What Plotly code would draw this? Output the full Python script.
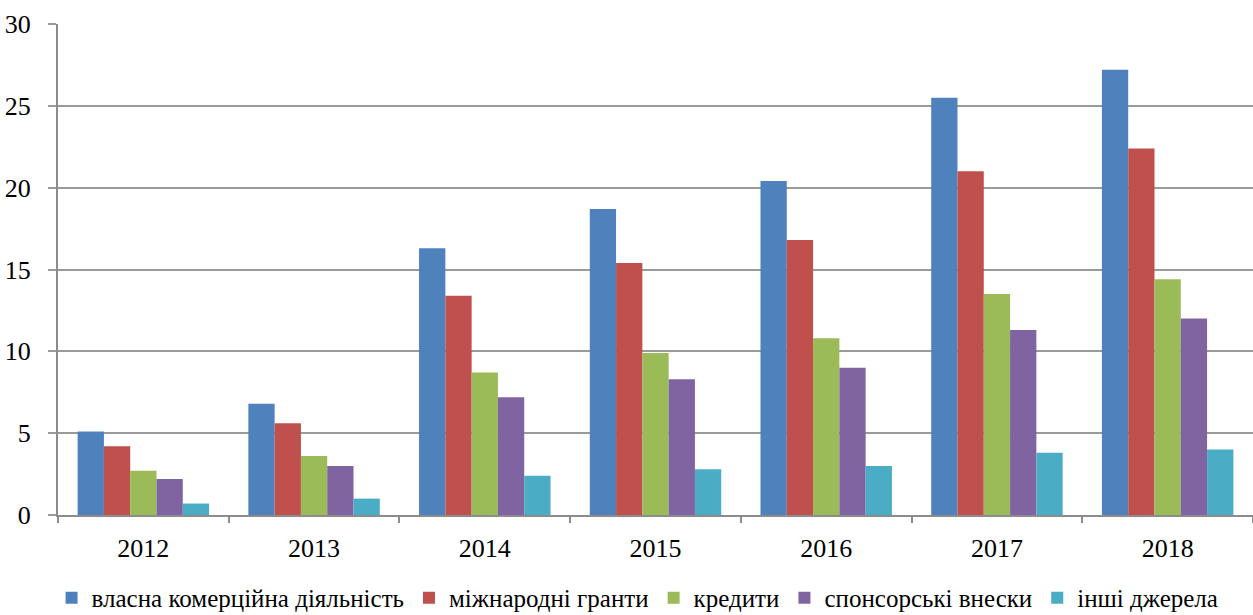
import plotly.graph_objects as go

years = ["2012", "2013", "2014", "2015", "2016", "2017", "2018"]
series_names = ["власна комерційна діяльність", "міжнародні гранти", "кредити",
                "спонсорські внески", "інші джерела"]
own_commercial = [5.1, 6.8, 16.3, 18.7, 20.4, 25.5, 27.2]
intl_grants = [4.2, 5.6, 13.4, 15.4, 16.8, 21.0, 22.4]
credits = [2.7, 3.6, 8.7, 9.9, 10.8, 13.5, 14.4]
sponsors = [2.2, 3.0, 7.2, 8.3, 9.0, 11.3, 12.0]
other = [0.7, 1.0, 2.4, 2.8, 3.0, 3.8, 4.0]
colors = ["#4F81BD", "#C0504D", "#9BBB59", "#8064A2", "#4BACC6"]

SERIF = "Liberation Serif"

fig = go.Figure()
for name, vals, col in zip(series_names, [own_commercial, intl_grants, credits, sponsors, other], colors):
    fig.add_trace(go.Bar(x=years, y=vals, name=name, marker_color=col,
                         marker_line_width=0))

fig.update_layout(
    width=1253, height=615,
    paper_bgcolor="white", plot_bgcolor="white",
    margin=dict(l=58, r=0, t=24, b=100, autoexpand=False),
    barmode="group", bargap=0.23, bargroupgap=0,
    font=dict(family=SERIF, size=26, color="#000000"),
    showlegend=True,
    legend=dict(orientation="h", x=0.485, xanchor="center",
                yref="paper", y=-0.122, yanchor="top",
                font=dict(family=SERIF, size=25, color="#000000"),
                itemwidth=30, tracegroupgap=0, traceorder="normal"),
    xaxis=dict(showline=True, linecolor="#8c8c8c", linewidth=2, ticks="outside",
               tickson="boundaries", ticklen=6, tickcolor="#8c8c8c", tickwidth=1.5,
               showgrid=False, ticklabelstandoff=9, automargin=False,
               tickfont=dict(family=SERIF, size=26, color="#000000")),
    yaxis=dict(range=[0, 30], dtick=5, showline=True, linecolor="#8c8c8c", linewidth=2,
               showgrid=True, gridcolor="#9a9a9a", gridwidth=2, ticks="outside",
               ticklen=8, tickcolor="#9a9a9a", tickwidth=2, zeroline=False,
               ticklabelstandoff=12, automargin=False,
               tickfont=dict(family=SERIF, size=26, color="#000000")),
)
fig.write_html("out.html", config={"displayModeBar": False},
               post_script="document.body.style.margin='0';")
